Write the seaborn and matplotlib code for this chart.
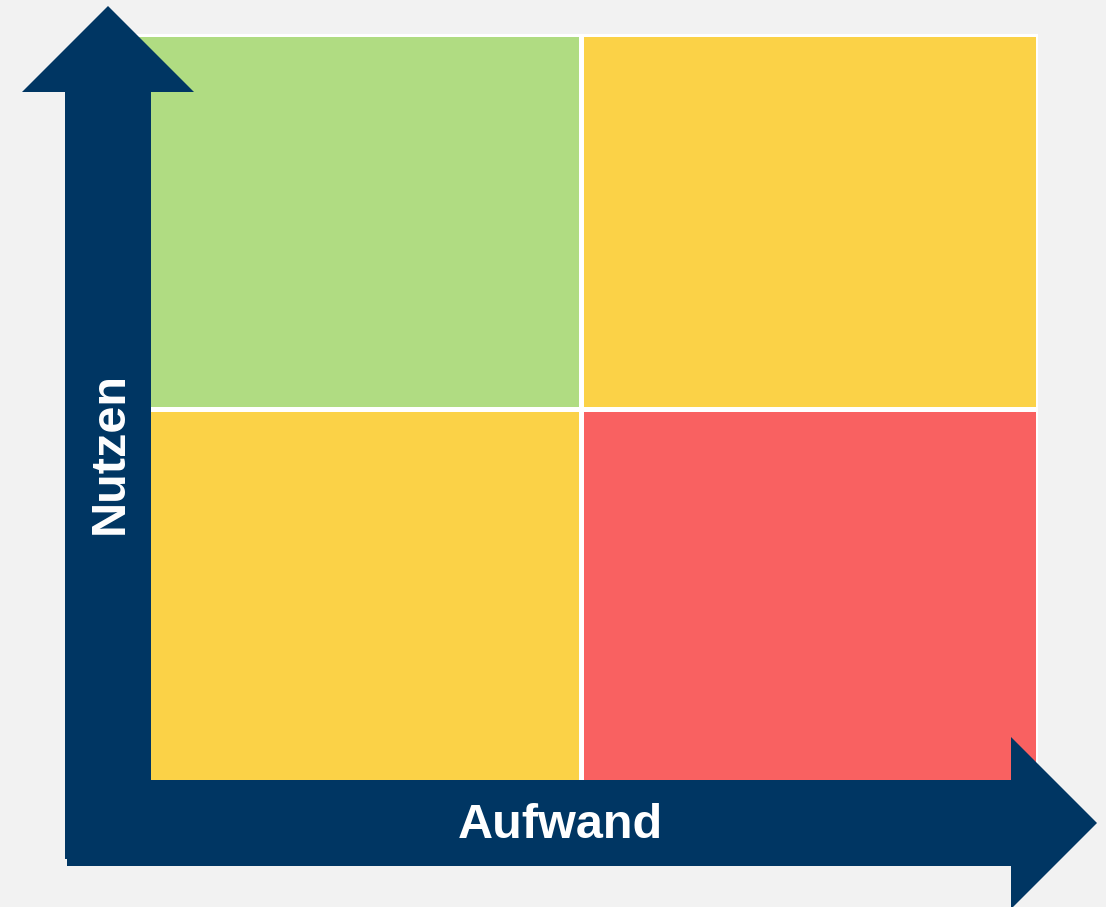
import matplotlib
matplotlib.use("Agg")
import matplotlib.pyplot as plt
from matplotlib.colors import ListedColormap
from matplotlib.patches import Polygon
import numpy as np
import seaborn as sns

# Nutzen/Aufwand-Matrix
nutzen_levels = ['hoch', 'niedrig']     # Zeilen, von oben nach unten
aufwand_levels = ['niedrig', 'hoch']    # Spalten, von links nach rechts
priority = [[0, 1],
            [1, 2]]                      # 0 = gut, 1 = mittel, 2 = schlecht
priority_colors = ['#b0dc82', '#fbd247', '#f96161']
x_label = 'Aufwand'
y_label = 'Nutzen'

bg = '#f2f2f2'
navy = '#003663'

sns.set_theme(style="white")
plt.rcParams['font.family'] = ['Liberation Sans', 'DejaVu Sans']

W, H = 1106, 907
fig = plt.figure(figsize=(W / 100, H / 100), dpi=100, facecolor=bg)

# Quadranten als Heatmap
hax = fig.add_axes([124 / W, 1 - 785 / H, 914 / W, 751 / H])
sns.heatmap(np.array(priority), cmap=ListedColormap(priority_colors),
            vmin=-0.5, vmax=2.5, cbar=False, linewidths=2.2, linecolor='white',
            xticklabels=aufwand_levels, yticklabels=nutzen_levels, ax=hax)
hax.set_xticks([])
hax.set_yticks([])
hax.set_xlabel('')
hax.set_ylabel('')

# Achsenpfeile in Pixelkoordinaten
ax = fig.add_axes([0, 0, 1, 1], zorder=5)
ax.set_xlim(0, W)
ax.set_ylim(H, 0)
ax.axis('off')
ax.patch.set_alpha(0)

up_arrow = [(65, 859), (65, 92), (22, 92), (108, 6), (194, 92), (151, 92), (151, 859)]
right_arrow = [(67, 780), (1011, 780), (1011, 737), (1097, 823), (1011, 909),
               (1011, 866), (67, 866)]
ax.add_patch(Polygon(up_arrow, closed=True, facecolor=navy, edgecolor='none'))
ax.add_patch(Polygon(right_arrow, closed=True, facecolor=navy, edgecolor='none'))

ax.text(560, 826, x_label, color='white', fontsize=35, fontweight='bold',
        ha='center', va='center')
ax.text(110, 453, y_label, color='white', fontsize=35, fontweight='bold',
        ha='center', va='center', rotation=90)

fig.savefig('out.png', dpi=100, facecolor=bg)
